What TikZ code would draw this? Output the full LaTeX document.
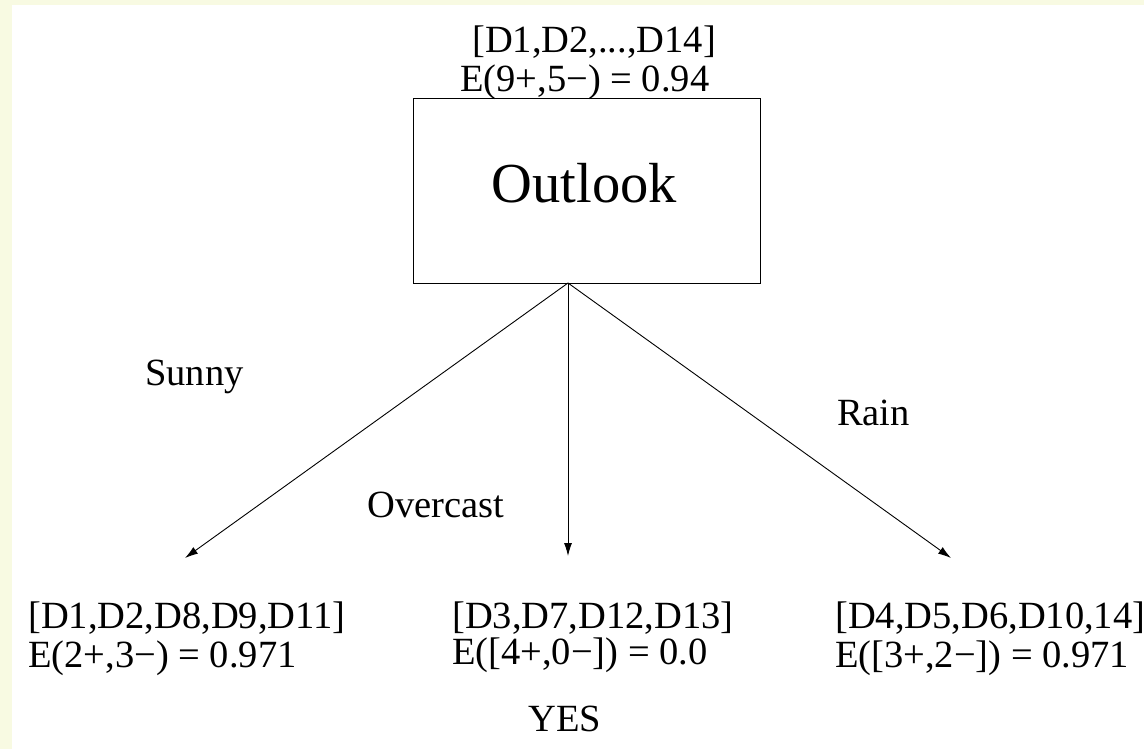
\documentclass[tikz,border=0pt]{standalone}
\usepackage{fontspec}
\setmainfont{Liberation Serif}
\usetikzlibrary{arrows.meta}
\definecolor{pagetint}{RGB}{248,250,226}
\tikzset{
  lbl/.style={anchor=base west, inner sep=0pt, font=\fontsize{38.5}{42}\selectfont},
  branch/.style={line width=0.9pt, -{Latex[length=13pt,width=8pt]}},
  testbox/.style={draw, line width=1pt, minimum width=347pt, minimum height=184pt, inner sep=0pt},
}
\begin{document}
\begin{tikzpicture}[x=1pt,y=-1pt]
  % canvas with tinted page edge
  \useasboundingbox (0,0) rectangle (1144,749);
  \fill[white] (0,0) rectangle (1144,749);
  \fill[pagetint] (0,0) rectangle (1144,5);
  \fill[pagetint] (0,0) rectangle (12,749);

  % root test node
  \node[testbox] (outlook) at (586.5,191) {};
  \node[anchor=base, inner sep=0pt, font=\fontsize{56.5}{60}\selectfont] (outlooktxt) at (584.5,203) {Outlook};
  \node[lbl] (rootset) at (472,53) {[D1,D2,...,D14]};
  \node[lbl] (rootent) at (460,92) {E(9+,5−) = 0.94};

  % branch points
  \coordinate (root) at (568,283);
  \coordinate (sunnyend) at (185,558);
  \coordinate (overend) at (568,556);
  \coordinate (rainend) at (951,558);

  \draw[branch] (root) -- (sunnyend);
  \draw[branch] (root) -- (overend);
  \draw[branch] (root) -- (rainend);

  % branch labels
  \node[lbl] (sunny) at (145,385) {Sunny};
  \node[lbl] (overcast) at (367,517) {Overcast};
  \node[lbl] (rain) at (837,425) {Rain};

  % leaves
  \node[lbl] (leftset) at (28,628) {[D1,D2,D8,D9,D11]};
  \node[lbl] (leftent) at (28,667) {E(2+,3−) = 0.971};
  \node[lbl] (midset) at (452,628) {[D3,D7,D12,D13]};
  \node[lbl] (ident) at (452,664) {E([4+,0−]) = 0.0};
  \node[lbl] (yes) at (528,731) {YES};
  \node[lbl] (rightset) at (835,628) {[D4,D5,D6,D10,14]};
  \node[lbl] (rightent) at (835,667) {E([3+,2−]) = 0.971};
\end{tikzpicture}
\end{document}
